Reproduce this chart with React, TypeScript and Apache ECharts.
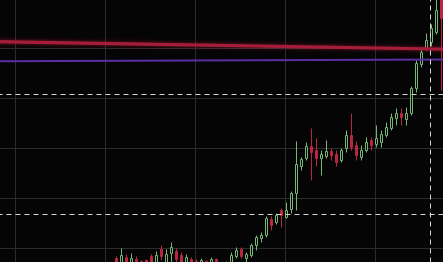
import React, { useEffect, useRef } from "react";
import * as echarts from "echarts";

// Candles, one slot per bar; slots before the first candle stay empty.
const firstSlot = 20;
const slotCount = 86;

const opens = [
  9.9, 9.84, 9.91, 9.84, 9.89, 9.87, 9.88, 9.92, 9.85, 9.99,
  9.86, 9.95, 9.97, 9.93, 9.86, 9.89, 9.87, 9.82, 9.87, 9.84,
  9.89, 9.85, 9.81, 9.86, 9.92, 9.99, 9.9, 9.93, 10.03, 10.1,
  10.13, 10.29, 10.26, 10.38, 10.31, 10.39, 10.55, 10.82, 10.9, 11.02,
  10.98, 10.9, 10.92, 10.97, 10.94, 10.88, 11.0, 11.13, 11.03, 10.91,
  10.98, 11.08, 11.04, 11.06, 11.13, 11.2, 11.3, 11.35, 11.29, 11.35,
  11.6, 11.84, 12.0, 12.06, 12.16, 12.63,
];
const closes = [
  9.84, 9.93, 9.84, 9.9, 9.83, 9.83, 9.82, 9.86, 9.93, 9.92,
  9.94, 10.01, 9.89, 9.86, 9.91, 9.84, 9.82, 9.88, 9.81, 9.89,
  9.86, 9.8, 9.86, 9.93, 9.98, 9.92, 9.94, 10.03, 10.11, 10.13,
  10.3, 10.23, 10.33, 10.33, 10.38, 10.55, 10.84, 10.89, 11.02, 10.96,
  10.9, 10.94, 10.97, 10.93, 10.86, 10.98, 11.13, 11.01, 10.93, 10.98,
  11.06, 11.03, 11.1, 11.14, 11.21, 11.31, 11.35, 11.31, 11.35, 11.6,
  11.85, 11.96, 12.08, 12.2, 12.38, 12.3,
];
const lows = [
  9.84, 9.83, 9.82, 9.82, 9.81, 9.8, 9.8, 9.84, 9.84, 9.88,
  9.84, 9.86, 9.86, 9.84, 9.84, 9.82, 9.8, 9.8, 9.79, 9.82,
  9.84, 9.78, 9.79, 9.84, 9.9, 9.9, 9.86, 9.91, 9.98, 10.06,
  10.11, 10.18, 10.24, 10.21, 10.3, 10.35, 10.38, 10.78, 10.88, 10.68,
  10.82, 10.73, 10.9, 10.88, 10.82, 10.86, 10.96, 10.98, 10.88, 10.88,
  10.96, 10.98, 11.01, 11.01, 11.11, 11.18, 11.23, 11.23, 11.23, 11.33,
  11.56, 11.81, 11.98, 12.02, 12.14, 11.58,
];
const highs = [
  9.92, 10.0, 9.94, 9.95, 9.92, 9.88, 9.89, 9.94, 9.97, 10.03,
  9.99, 10.06, 10.0, 9.96, 9.94, 9.91, 9.89, 9.9, 9.88, 9.91,
  9.9, 9.86, 9.87, 9.96, 10.01, 10.01, 9.96, 10.05, 10.13, 10.16,
  10.32, 10.32, 10.35, 10.4, 10.46, 10.57, 11.07, 10.91, 11.06, 11.2,
  11.1, 10.98, 11.08, 11.0, 10.98, 11.0, 11.18, 11.35, 11.07, 11.03,
  11.11, 11.11, 11.23, 11.18, 11.26, 11.35, 11.4, 11.4, 11.41, 11.62,
  11.88, 12.01, 12.15, 12.24, 12.5, 12.73,
];

// Trend lines (price at the left and right edge of the overlay axis)
const redTrend = [12.08, 11.99];
const purpleTrend = [11.87, 11.89];
// Dashed price levels and the dashed marker bar
const levelLines = [11.54, 10.34];
const markerSlot = 83;

const priceMin = 9.5;
const priceMax = 12.5;
const overlayMin = -18;
const overlayMax = 90;

const BG = "#050505";
const UP = "#72b874";
const DOWN = "#b82641";
const GRID_LINE = "#2c2c2c";

export default function App() {
  const ref = useRef<HTMLDivElement>(null);

  useEffect(() => {
    if (!ref.current) return;
    const chart = echarts.init(ref.current, undefined, { renderer: "svg" });

    const slots = Array.from({ length: slotCount }, (_, i) => String(i));
    const candleData: any[] = slots.map((_, i) => {
      const j = i - firstSlot;
      if (j < 0 || j >= opens.length) return "-";
      return [opens[j], closes[j], lows[j], highs[j]];
    });

    chart.setOption({
      animation: false,
      backgroundColor: BG,
      grid: [
        {
          left: 16.5,
          top: -1.5,
          width: 425,
          height: 300,
          outerBoundsMode: "none",
          containLabel: false,
        },
        {
          left: -74.5,
          top: -1.5,
          width: 540,
          height: 300,
          outerBoundsMode: "none",
          containLabel: false,
        },
      ],
      xAxis: [
        {
          type: "category",
          gridIndex: 0,
          data: slots,
          boundaryGap: false,
          show: false,
        },
        {
          type: "value",
          gridIndex: 1,
          min: overlayMin,
          max: overlayMax,
          interval: 18,
          axisLine: { show: false },
          axisTick: { show: false },
          axisLabel: { show: false },
          splitLine: { show: true, lineStyle: { color: GRID_LINE, width: 1 } },
        },
      ],
      yAxis: [
        { type: "value", gridIndex: 0, min: priceMin, max: priceMax, show: false },
        {
          type: "value",
          gridIndex: 1,
          min: priceMin,
          max: priceMax,
          interval: 0.5,
          axisLine: { show: false },
          axisTick: { show: false },
          axisLabel: { show: false },
          splitLine: { show: true, lineStyle: { color: GRID_LINE, width: 1 } },
        },
      ],
      series: [
        {
          type: "candlestick",
          xAxisIndex: 0,
          yAxisIndex: 0,
          data: candleData,
          barWidth: 3,
          z: 2,
          itemStyle: {
            color: BG,
            color0: DOWN,
            borderColor: UP,
            borderColor0: DOWN,
            borderWidth: 1,
          },
        },
        {
          type: "line",
          xAxisIndex: 1,
          yAxisIndex: 1,
          z: 4,
          showSymbol: false,
          data: [
            [overlayMin, redTrend[0]],
            [overlayMax, redTrend[1]],
          ],
          lineStyle: {
            color: "#a81e3a",
            width: 3,
            shadowColor: "rgba(190,30,60,0.6)",
            shadowBlur: 4,
          },
        },
        {
          type: "line",
          xAxisIndex: 1,
          yAxisIndex: 1,
          z: 4,
          showSymbol: false,
          data: [
            [overlayMin, purpleTrend[0]],
            [overlayMax, purpleTrend[1]],
          ],
          lineStyle: { color: "#5a2fa0", width: 2 },
          markLine: {
            symbol: "none",
            silent: true,
            label: { show: false },
            lineStyle: { color: "#d4d4d4", width: 1, type: [5, 4] },
            data: [
              ...levelLines.map((v) => ({ yAxis: v })),
              { xAxis: markerSlot },
            ],
          },
        },
      ],
    });

    return () => chart.dispose();
  }, []);

  return (
    <div
      ref={ref}
      style={{ position: "fixed", left: 0, top: 0, width: 443, height: 262 }}
    />
  );
}
